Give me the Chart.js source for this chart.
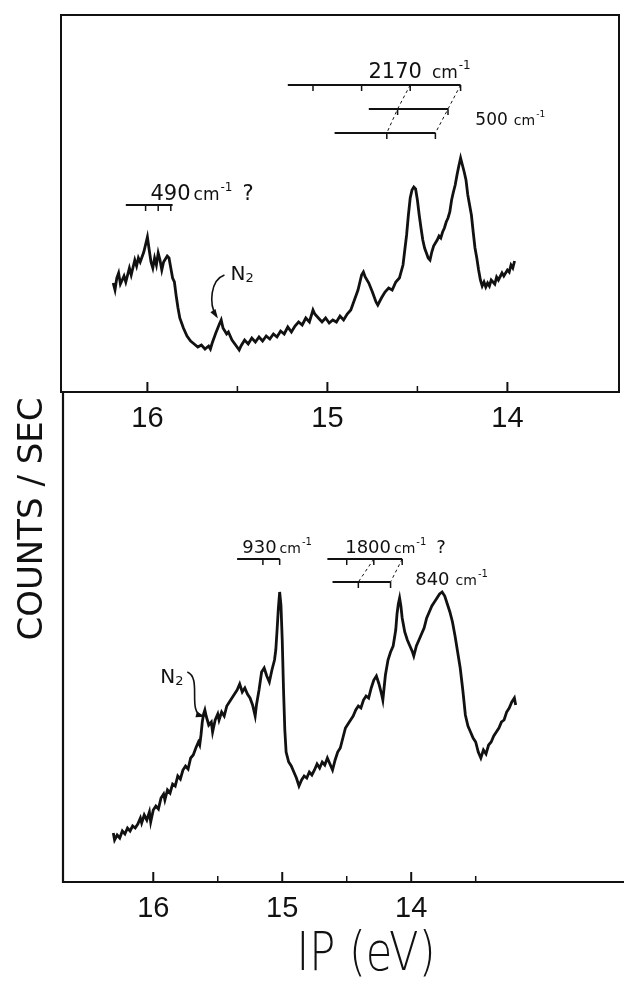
<!DOCTYPE html>
<html>
<head>
<meta charset="utf-8">
<script src="https://cdn.jsdelivr.net/npm/chart.js@4.4.1/dist/chart.umd.min.js"></script>
<style>
  html, body { margin: 0; padding: 0; background: #fff; }
  #wrap { position: relative; width: 624px; height: 981px; }
  canvas { position: absolute; left: 0; top: 0; }
</style>
</head>
<body>
<div id="wrap">
  <canvas id="lower" width="624" height="981"></canvas>
  <canvas id="upper" width="624" height="440"></canvas>
</div>
<script>
// Upper spectrum: ionization potential (eV) and counts (arbitrary units)
const upperIP = [16.19, 16.18, 16.17, 16.16, 16.15, 16.13, 16.12, 16.10, 16.09, 16.07, 16.06, 16.05, 16.04, 16.02, 16.00,
  15.99, 15.98, 15.97, 15.96, 15.95, 15.94, 15.93, 15.92, 15.91, 15.89, 15.88, 15.87, 15.86, 15.85, 15.84, 15.83, 15.82,
  15.80, 15.78, 15.76, 15.74, 15.72, 15.70, 15.68, 15.66, 15.65, 15.64, 15.62, 15.60, 15.59, 15.58, 15.56, 15.55, 15.53,
  15.51, 15.49, 15.48, 15.46, 15.44, 15.42, 15.40, 15.38, 15.36, 15.34, 15.32, 15.30, 15.28, 15.26, 15.24, 15.22, 15.20,
  15.18, 15.16, 15.14, 15.12, 15.10, 15.08, 15.07, 15.05, 15.03, 15.01, 14.99, 14.97, 14.95, 14.93, 14.91, 14.89, 14.87,
  14.85, 14.83, 14.81, 14.80, 14.79, 14.77, 14.75, 14.73, 14.72, 14.70, 14.68, 14.66, 14.64, 14.62, 14.60, 14.58, 14.57,
  14.56, 14.55, 14.54, 14.53, 14.52, 14.51, 14.50, 14.49, 14.48, 14.47, 14.46, 14.45, 14.44, 14.43, 14.42, 14.41, 14.40,
  14.39, 14.38, 14.37, 14.36, 14.35, 14.34, 14.33, 14.32, 14.31, 14.30, 14.29, 14.28, 14.27, 14.26, 14.25, 14.24, 14.23,
  14.22, 14.21, 14.20, 14.19, 14.18, 14.17, 14.16, 14.15, 14.14, 14.13, 14.12, 14.11, 14.10, 14.09, 14.07, 14.06, 14.05,
  14.03, 14.02, 14.00, 13.99, 13.98, 13.97, 13.96];
const upperCounts = [109, 102, 114, 119, 108, 116, 110, 124, 117, 132, 126, 134, 130, 140, 155,
  142, 130, 124, 134, 127, 139, 132, 122, 130, 136, 134, 124, 114, 110, 96, 84, 74,
  64, 56, 51, 48, 45, 47, 43, 46, 43, 49, 59, 68, 72, 64, 58, 60, 52,
  47, 42, 46, 52, 48, 54, 50, 55, 51, 56, 53, 58, 55, 61, 58, 65, 60,
  66, 70, 67, 74, 70, 82, 78, 74, 70, 74, 69, 72, 70, 76, 72, 78, 82,
  92, 102, 117, 120, 115, 109, 100, 90, 87, 94, 100, 104, 102, 110, 114, 127, 142,
  157, 177, 194, 202, 205, 203, 192, 177, 164, 152, 144, 139, 134, 132, 140, 146, 149,
  152, 156, 154, 160, 164, 170, 174, 180, 192, 200, 207, 217, 226, 234, 227, 220, 212,
  197, 187, 177, 160, 144, 134, 122, 112, 106, 110, 105, 109, 106, 112, 108, 115, 112,
  119, 116, 122, 120, 127, 124, 131];

// Lower spectrum
const lowerIP = [16.31, 16.30, 16.28, 16.26, 16.24, 16.22, 16.20, 16.18, 16.16, 16.14, 16.12, 16.10, 16.09, 16.07, 16.05,
  16.03, 16.02, 16.00, 15.98, 15.96, 15.94, 15.92, 15.91, 15.89, 15.87, 15.85, 15.83, 15.81, 15.79, 15.77, 15.75, 15.73,
  15.71, 15.69, 15.67, 15.65, 15.64, 15.63, 15.62, 15.61, 15.60, 15.59, 15.57, 15.55, 15.54, 15.52, 15.50, 15.49, 15.47,
  15.45, 15.43, 15.41, 15.39, 15.37, 15.35, 15.33, 15.31, 15.29, 15.27, 15.25, 15.23, 15.21, 15.20, 15.18, 15.16, 15.14,
  15.12, 15.10, 15.08, 15.06, 15.05, 15.04, 15.03, 15.02, 15.01, 15.00, 14.99, 14.98, 14.97, 14.95, 14.93, 14.91, 14.89,
  14.87, 14.85, 14.83, 14.81, 14.79, 14.77, 14.75, 14.73, 14.71, 14.69, 14.67, 14.65, 14.63, 14.61, 14.59, 14.57, 14.55,
  14.53, 14.51, 14.49, 14.47, 14.45, 14.43, 14.41, 14.39, 14.37, 14.35, 14.33, 14.31, 14.29, 14.27, 14.25, 14.23, 14.22,
  14.20, 14.18, 14.16, 14.14, 14.12, 14.11, 14.10, 14.09, 14.08, 14.07, 14.05, 14.03, 14.01, 13.99, 13.98, 13.96, 13.94,
  13.92, 13.90, 13.88, 13.86, 13.84, 13.82, 13.80, 13.78, 13.76, 13.74, 13.72, 13.70, 13.68, 13.66, 13.64, 13.62, 13.60,
  13.58, 13.56, 13.54, 13.52, 13.50, 13.48, 13.46, 13.44, 13.42, 13.40, 13.38, 13.36, 13.34, 13.32, 13.30, 13.28, 13.26,
  13.24, 13.22, 13.20, 13.19];
const lowerCounts = [49, 42, 47, 44, 51, 48, 54, 51, 56, 54, 58, 64, 59, 67, 62,
  70, 60, 72, 76, 73, 84, 88, 82, 92, 89, 98, 96, 106, 103, 112, 116, 113,
  124, 127, 134, 140, 137, 147, 160, 168, 172, 166, 157, 160, 150, 162, 168, 162, 170,
  166, 176, 180, 184, 188, 192, 198, 190, 194, 188, 184, 177, 166, 177, 192, 210, 214,
  206, 200, 212, 222, 232, 252, 274, 290, 277, 242, 192, 152, 130, 120, 116, 110, 104,
  96, 102, 106, 104, 110, 107, 112, 118, 114, 120, 117, 124, 118, 112, 122, 130, 134,
  144, 154, 158, 162, 166, 172, 176, 174, 182, 186, 184, 194, 202, 206, 198, 188, 182,
  207, 222, 230, 236, 252, 268, 278, 284, 276, 264, 250, 242, 236, 230, 226, 236, 242,
  248, 254, 264, 270, 276, 280, 284, 288, 290, 286, 278, 270, 260, 246, 230, 214, 192,
  167, 156, 150, 144, 140, 130, 124, 132, 128, 137, 140, 146, 150, 154, 160, 162, 170,
  174, 180, 184, 177];

// Axis ticks (eV)
const tickValues = [16, 15.5, 15, 14.5, 14];
const lowerTickValues = [16, 15.5, 15, 14.5, 14, 13.5];

// Progression ladders: level (counts), bar extent and tick positions (eV)
const upperLadders = [
  { level: 187, from: 16.12, to: 15.86, ticks: [16.01, 15.94, 15.87] },
  { level: 307, from: 15.22, to: 14.26, ticks: [15.08, 14.81, 14.54, 14.26] },
  { level: 283, from: 14.77, to: 14.33, ticks: [14.61, 14.33] },
  { level: 259, from: 14.96, to: 14.40, ticks: [14.67, 14.40] }
];
const upperDashes = [[[14.54, 307], [14.61, 283], [14.67, 259]], [[14.26, 307], [14.33, 283], [14.40, 259]]];
const upperLabels = [
  { num: "490", ip: 15.983, level: 192, size: 21, q: true },
  { num: "2170", ip: 14.772, level: 314, size: 21, gap: 10 },
  { num: "500", ip: 14.178, level: 267, size: 17, gap: 6 }
];

const lowerLadders = [
  { level: 323, from: 15.35, to: 15.02, ticks: [15.15, 15.02] },
  { level: 323, from: 14.65, to: 14.07, ticks: [14.50, 14.29, 14.07] },
  { level: 300, from: 14.61, to: 14.16, ticks: [14.41, 14.16] }
];
const lowerDashes = [[[14.29, 323], [14.41, 300]], [[14.07, 323], [14.16, 300]]];
const lowerLabels = [
  { num: "930", ip: 15.31, level: 329, size: 18 },
  { num: "1800", ip: 14.512, level: 329, size: 18, q: true },
  { num: "840", ip: 13.969, level: 297, size: 18, gap: 6 }
];

const ink = "#111";
const sans = '"Liberation Sans", sans-serif';
const plain = '"DejaVu Sans", sans-serif';

function px(chart, ip, level) {
  return [chart.scales.x.getPixelForValue(ip), chart.scales.y.getPixelForValue(level)];
}

function drawWavenumber(ctx, x, y, lab) {
  ctx.font = lab.size + "px " + plain;
  ctx.textBaseline = "alphabetic";
  ctx.textAlign = "left";
  ctx.fillText(lab.num, x, y);
  x += ctx.measureText(lab.num).width + (lab.gap || 3);
  ctx.font = Math.round(lab.size * 0.8) + "px " + plain;
  ctx.fillText("cm", x, y);
  x += ctx.measureText("cm").width + 1;
  ctx.font = Math.round(lab.size * 0.55) + "px " + plain;
  ctx.fillText("-1", x, y - lab.size * 0.45);
  x += ctx.measureText("-1").width;
  if (lab.q) {
    ctx.font = lab.size + "px " + plain;
    ctx.fillText("?", x + 10, y);
  }
}

function drawLadders(chart, ladders, dashes, labels) {
  const ctx = chart.ctx;
  ctx.save();
  ctx.strokeStyle = ink;
  ctx.fillStyle = ink;
  ladders.forEach(l => {
    const [x1, y] = px(chart, l.from, l.level);
    const [x2] = px(chart, l.to, l.level);
    ctx.lineWidth = 2;
    ctx.beginPath(); ctx.moveTo(x1, y); ctx.lineTo(x2, y); ctx.stroke();
    ctx.lineWidth = 1.5;
    l.ticks.forEach(t => {
      const [tx] = px(chart, t, l.level);
      ctx.beginPath(); ctx.moveTo(tx, y); ctx.lineTo(tx, y + 6); ctx.stroke();
    });
  });
  ctx.lineWidth = 1;
  ctx.setLineDash([3, 3]);
  dashes.forEach(d => {
    ctx.beginPath();
    d.forEach((p, i) => {
      const [x, y] = px(chart, p[0], p[1]);
      if (i === 0) ctx.moveTo(x, y); else ctx.lineTo(x, y);
    });
    ctx.stroke();
  });
  ctx.setLineDash([]);
  labels.forEach(lab => {
    const [x, y] = px(chart, lab.ip, lab.level);
    drawWavenumber(ctx, x, y, lab);
  });
  ctx.restore();
}

function drawN2(chart, ip, level, curve) {
  const ctx = chart.ctx;
  ctx.save();
  ctx.fillStyle = ink;
  ctx.strokeStyle = ink;
  const [x, y] = px(chart, ip, level);
  ctx.font = "20px " + plain;
  ctx.textBaseline = "alphabetic";
  ctx.fillText("N", x, y);
  ctx.font = "13px " + plain;
  ctx.fillText("2", x + 15, y + 2);
  const p = curve.map(c => px(chart, c[0], c[1]));
  ctx.lineWidth = 1.6;
  ctx.beginPath();
  ctx.moveTo(p[0][0], p[0][1]);
  ctx.bezierCurveTo(p[1][0], p[1][1], p[2][0], p[2][1], p[3][0], p[3][1]);
  ctx.stroke();
  const a = Math.atan2(p[3][1] - p[2][1], p[3][0] - p[2][0]);
  ctx.beginPath();
  ctx.moveTo(p[3][0] + 3 * Math.cos(a), p[3][1] + 3 * Math.sin(a));
  ctx.lineTo(p[3][0] - 7 * Math.cos(a - 0.45), p[3][1] - 7 * Math.sin(a - 0.45));
  ctx.lineTo(p[3][0] - 7 * Math.cos(a + 0.45), p[3][1] - 7 * Math.sin(a + 0.45));
  ctx.closePath();
  ctx.fill();
  ctx.restore();
}

function drawInwardTicks(chart, values) {
  const ctx = chart.ctx, x = chart.scales.x, b = chart.chartArea.bottom;
  ctx.save();
  ctx.strokeStyle = ink;
  values.forEach(v => {
    const major = Number.isInteger(v);
    const tx = x.getPixelForValue(v);
    ctx.lineWidth = major ? 2 : 1.5;
    ctx.beginPath(); ctx.moveTo(tx, b); ctx.lineTo(tx, b - (major ? 10 : 6)); ctx.stroke();
  });
  ctx.restore();
}

const upperDecor = {
  id: "upperDecor",
  afterDraw(chart) {
    const ctx = chart.ctx, a = chart.chartArea;
    ctx.save();
    ctx.strokeStyle = ink;
    ctx.lineWidth = 2;
    ctx.strokeRect(a.left, a.top, a.right - a.left, a.bottom - a.top);
    ctx.restore();
    drawInwardTicks(chart, tickValues);
    drawLadders(chart, upperLadders, upperDashes, upperLabels);
    drawN2(chart, 15.539, 112, [[15.572, 117], [15.65, 112], [15.66, 88], [15.617, 76]]);
  }
};

const lowerDecor = {
  id: "lowerDecor",
  afterDraw(chart) {
    const ctx = chart.ctx, a = chart.chartArea;
    ctx.save();
    ctx.strokeStyle = ink;
    ctx.lineWidth = 2.2;
    ctx.beginPath();
    ctx.moveTo(a.left, a.top);
    ctx.lineTo(a.left, a.bottom);
    ctx.lineTo(chart.width, a.bottom);
    ctx.stroke();
    ctx.fillStyle = ink;
    ctx.textAlign = "center";
    ctx.textBaseline = "middle";
    ctx.save();
    ctx.translate(366, 956);
    ctx.scale(0.8, 1);
    ctx.font = "200 54px " + plain;
    ctx.fillText("IP (eV)", 0, 0);
    ctx.restore();
    ctx.translate(33, 519);
    ctx.rotate(-Math.PI / 2);
    ctx.font = "34px " + plain;
    ctx.fillText("COUNTS / SEC", 0, 0);
    ctx.restore();
    drawInwardTicks(chart, lowerTickValues);
    drawLadders(chart, lowerLadders, lowerDashes, lowerLabels);
    drawN2(chart, 15.946, 199, [[15.736, 210], [15.62, 204], [15.74, 170], [15.62, 166]]);
  }
};

function makeXAxis(min, max, values, height) {
  return {
    type: "linear", reverse: true, min: min, max: max,
    afterBuildTicks: s => { s.ticks = values.map(v => ({ value: v })); },
    afterFit: s => { s.height = height; },
    grid: { display: false, drawTicks: false },
    border: { display: false },
    ticks: {
      autoSkip: false, maxRotation: 0, padding: 10, color: ink,
      font: { family: sans, size: 29 },
      callback: v => Number.isInteger(v) ? String(v) : ""
    }
  };
}

function trace(xs, ys) {
  return {
    data: xs.map((x, i) => ({ x: x, y: ys[i] })),
    borderColor: ink, borderWidth: 2.8, pointRadius: 0, tension: 0, fill: false
  };
}

const common = {
  responsive: false, animation: false, parsing: false,
  plugins: { legend: { display: false }, tooltip: { enabled: false } }
};

new Chart(document.getElementById("upper"), {
  type: "line",
  data: { datasets: [trace(upperIP, upperCounts)] },
  options: Object.assign({}, common, {
    layout: { padding: { left: 61, right: 5, top: 15, bottom: 0 } },
    scales: {
      x: makeXAxis(13.38, 16.48, tickValues, 48),
      y: { display: false, min: 0, max: 377 }
    }
  }),
  plugins: [upperDecor]
});

new Chart(document.getElementById("lower"), {
  type: "line",
  data: { datasets: [trace(lowerIP, lowerCounts)] },
  options: Object.assign({}, common, {
    layout: { padding: { left: 63, right: 0, top: 392, bottom: 0 } },
    scales: {
      x: makeXAxis(12.35, 16.70, lowerTickValues, 99),
      y: { display: false, min: 0, max: 490 }
    }
  }),
  plugins: [lowerDecor]
});
</script>
</body>
</html>
